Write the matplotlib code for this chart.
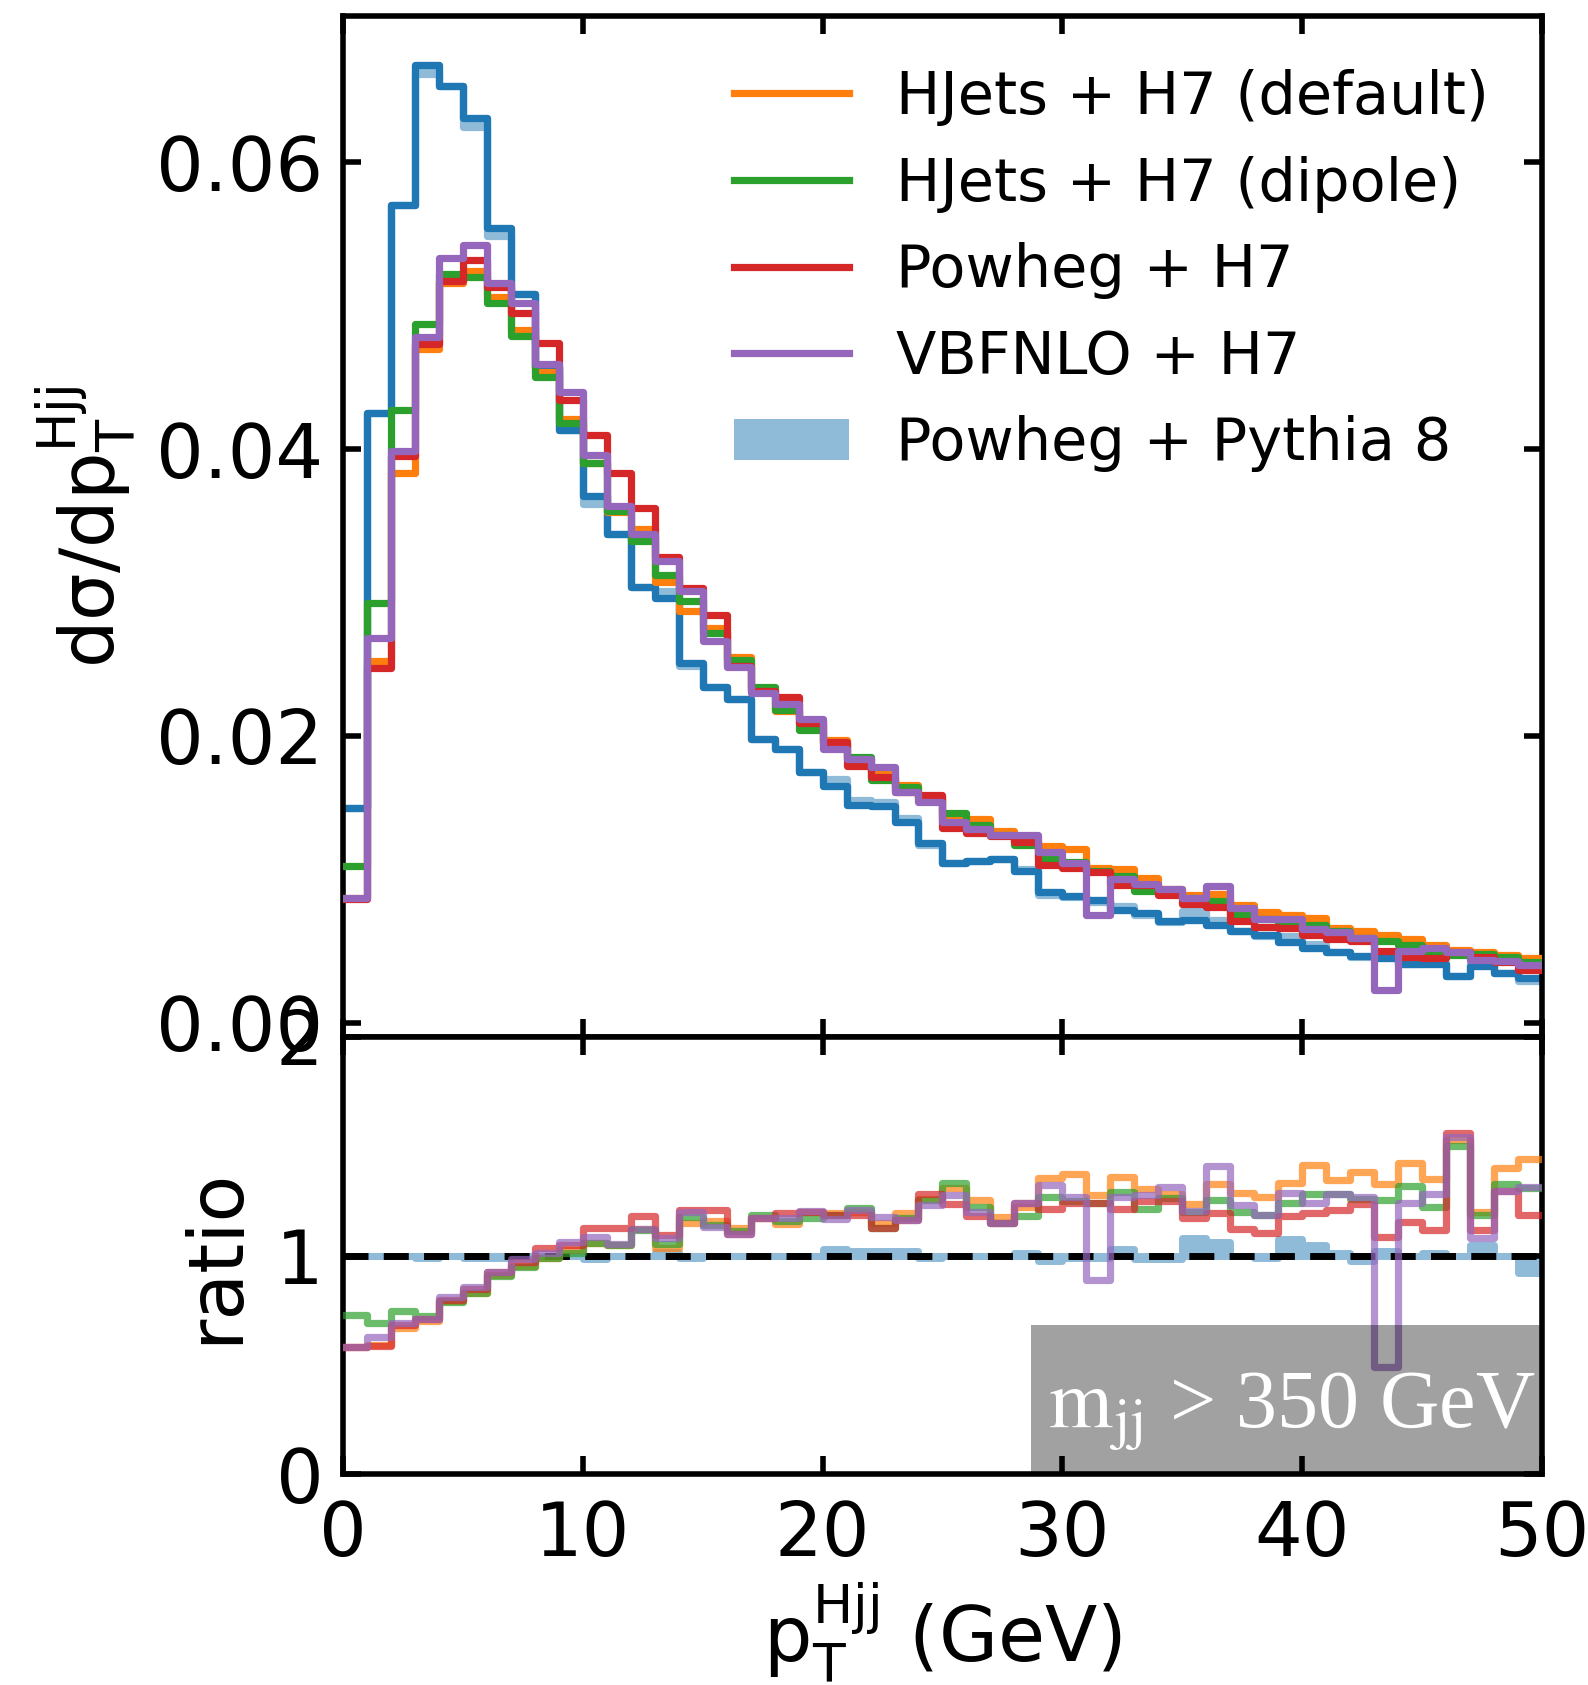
import numpy as np
import matplotlib
matplotlib.use("Agg")
import matplotlib.pyplot as plt
from matplotlib.patches import Patch, Rectangle

plt.rcParams['font.family'] = ['DejaVu Sans']
plt.rcParams['mathtext.default'] = 'regular'

# ---------------- data ----------------
bin_edges = np.arange(0, 51, 1)

# Powheg + Pythia 8 (central, dark blue line)
powheg_py8 = [0.0150, 0.0425, 0.0570, 0.0668, 0.0653, 0.0631, 0.0554, 0.0508, 0.0457, 0.0413,
              0.0367, 0.0341, 0.0304, 0.0296, 0.0251, 0.0234, 0.0226, 0.0198, 0.0191, 0.0175,
              0.0165, 0.0152, 0.0151, 0.0140, 0.0125, 0.0111, 0.0113, 0.0114, 0.0106, 0.0091,
              0.00885, 0.00853, 0.00787, 0.00764, 0.00711, 0.00718, 0.00678, 0.00636, 0.00608, 0.0056,
              0.0052, 0.0049, 0.00467, 0.00451, 0.00411, 0.00411, 0.00328, 0.00393, 0.00346, 0.00312]

# Powheg + Pythia 8 variation, relative to the central value (light blue band)
powheg_py8_var_ratio = [1.0, 1.0, 1.0, 0.99, 1.0, 0.99, 0.99, 1.0, 1.0, 1.0,
                        0.985, 1.0, 1.0, 1.016, 0.99, 1.0, 1.0, 1.0, 1.0, 1.0,
                        1.028, 1.02, 1.02, 1.02, 0.99, 1.0, 1.0, 1.0, 1.01, 0.975,
                        0.99, 0.99, 1.03, 0.985, 0.985, 1.08, 1.06, 1.0, 0.99, 1.075,
                        1.05, 1.01, 0.975, 1.02, 1.0, 1.01, 1.0, 1.05, 1.0, 0.92]

hjets_default = [0.0087, 0.0252, 0.0383, 0.0470, 0.0516, 0.0524, 0.0506, 0.0483, 0.0454, 0.0421,
                 0.0390, 0.0356, 0.0344, 0.0307, 0.0287, 0.0275, 0.0255, 0.0231, 0.0217, 0.0211,
                 0.0197, 0.0184, 0.0175, 0.0166, 0.0157, 0.0143, 0.0142, 0.0134, 0.0128, 0.0123,
                 0.0121, 0.0108, 0.0107, 0.0101, 0.0093, 0.0089, 0.0090, 0.0082, 0.0077, 0.0075,
                 0.0073, 0.0066, 0.0064, 0.0061, 0.0058, 0.0054, 0.0051, 0.0049, 0.0047, 0.0045]

hjets_dipole = [0.0109, 0.0293, 0.0427, 0.0487, 0.0522, 0.0520, 0.0502, 0.0479, 0.0450, 0.0418,
                0.0390, 0.0357, 0.0336, 0.0312, 0.0294, 0.0272, 0.0253, 0.0234, 0.0218, 0.0204,
                0.0195, 0.0185, 0.0169, 0.0164, 0.0157, 0.0146, 0.0138, 0.0131, 0.0124, 0.0115,
                0.0112, 0.0106, 0.0102, 0.0092, 0.0090, 0.0087, 0.0085, 0.0076, 0.0072, 0.0070,
                0.0068, 0.0064, 0.0059, 0.0057, 0.0054, 0.0050, 0.0047, 0.0048, 0.0046, 0.0042]

powheg_h7 = [0.0086, 0.0247, 0.0395, 0.0473, 0.0517, 0.0532, 0.0513, 0.0495, 0.0474, 0.0434,
             0.0410, 0.0383, 0.0359, 0.0325, 0.0303, 0.0284, 0.0249, 0.0231, 0.0227, 0.0209,
             0.0196, 0.0179, 0.0171, 0.0161, 0.0159, 0.0136, 0.0132, 0.0130, 0.0126, 0.0110,
             0.0108, 0.0105, 0.0096, 0.0096, 0.0089, 0.0083, 0.0081, 0.0071, 0.0067, 0.0066,
             0.0061, 0.0058, 0.0057, 0.0050, 0.0046, 0.0045, 0.0049, 0.0046, 0.0042, 0.0037]

vbfnlo_h7 = [0.0087, 0.0268, 0.0399, 0.0478, 0.0533, 0.0542, 0.0516, 0.0502, 0.0459, 0.0440,
             0.0396, 0.0360, 0.0341, 0.0322, 0.0301, 0.0266, 0.0248, 0.0230, 0.0222, 0.0212,
             0.0191, 0.0184, 0.0178, 0.0161, 0.0154, 0.0140, 0.0135, 0.0131, 0.0131, 0.0119,
             0.0111, 0.0075, 0.0100, 0.0097, 0.0093, 0.0087, 0.0095, 0.0080, 0.0072, 0.0072,
             0.0065, 0.0063, 0.0059, 0.0023, 0.0050, 0.0052, 0.0049, 0.0044, 0.0043, 0.0040]

# ratios to Powheg + Pythia 8 (lower panel)
ratio_hjets_default = [0.58, 0.59, 0.667, 0.70, 0.79, 0.83, 0.91, 0.95, 0.99, 1.025,
                       1.055, 1.048, 1.12, 1.035, 1.147, 1.16, 1.125, 1.17, 1.145, 1.20,
                       1.196, 1.20, 1.15, 1.196, 1.26, 1.307, 1.254, 1.178, 1.22, 1.353,
                       1.373, 1.277, 1.358, 1.303, 1.28, 1.236, 1.327, 1.285, 1.266, 1.33,
                       1.414, 1.346, 1.384, 1.327, 1.425, 1.349, 1.53, 1.20, 1.399, 1.441]

ratio_hjets_dipole = [0.728, 0.690, 0.748, 0.725, 0.789, 0.827, 0.906, 0.946, 0.987, 1.01,
                      1.059, 1.05, 1.115, 1.054, 1.175, 1.14, 1.11, 1.185, 1.159, 1.17,
                      1.185, 1.216, 1.124, 1.17, 1.254, 1.330, 1.223, 1.147, 1.181, 1.269,
                      1.25, 1.24, 1.292, 1.211, 1.262, 1.20, 1.254, 1.200, 1.185, 1.242,
                      1.281, 1.28, 1.26, 1.254, 1.318, 1.223, 1.500, 1.185, 1.327, 1.31]

ratio_powheg_h7 = [0.583, 0.585, 0.683, 0.708, 0.796, 0.845, 0.926, 0.972, 1.033, 1.05,
                   1.124, 1.124, 1.183, 1.096, 1.21, 1.21, 1.10, 1.17, 1.193, 1.198,
                   1.185, 1.185, 1.124, 1.163, 1.281, 1.236, 1.181, 1.147, 1.242, 1.211,
                   1.239, 1.24, 1.211, 1.25, 1.25, 1.170, 1.196, 1.120, 1.102, 1.181,
                   1.196, 1.208, 1.236, 1.086, 1.155, 1.117, 1.559, 1.117, 1.293, 1.185]

ratio_vbfnlo_h7 = [0.583, 0.628, 0.693, 0.708, 0.812, 0.857, 0.926, 0.982, 1.010, 1.063,
                   1.083, 1.053, 1.12, 1.08, 1.198, 1.132, 1.10, 1.17, 1.17, 1.205,
                   1.166, 1.207, 1.176, 1.163, 1.231, 1.277, 1.200, 1.147, 1.242, 1.323,
                   1.269, 0.888, 1.269, 1.275, 1.315, 1.205, 1.410, 1.231, 1.185, 1.285,
                   1.242, 1.281, 1.27, 0.491, 1.239, 1.281, 1.541, 1.079, 1.293, 1.315]

series_labels = ["HJets + H7 (default)", "HJets + H7 (dipole)", "Powheg + H7", "VBFNLO + H7"]
band_label = "Powheg + Pythia 8"
xlabel = r"$p_T^{Hjj}$ (GeV)"
ylabel_main = r"$d\sigma/dp_T^{Hjj}$"
ylabel_ratio = "ratio"
cut_text = r"$\mathrm{m_{jj}}$ > 350 GeV"

# ---------------- style ----------------
c_orange, c_green, c_red, c_purple = "#ff7f0e", "#2ca02c", "#d62728", "#9467bd"
c_blue = "#1f77b4"
c_band = "#8fbbd9"
LW = 5.2
FS = 54


def stepy(v):
    v = np.asarray(v, dtype=float)
    return np.append(v, v[-1])


fig = plt.figure(figsize=(15.88, 16.85), dpi=100)
ax = fig.add_axes([0.2160, 0.38457, 0.7550, 0.60593])
axr = fig.add_axes([0.2160, 0.12522, 0.7550, 0.25935], sharex=ax)

# ---- main panel ----
pp8 = np.asarray(powheg_py8)
ax.fill_between(bin_edges, stepy(pp8), stepy(pp8 * np.asarray(powheg_py8_var_ratio)),
                step="post", facecolor=c_band, edgecolor=c_band, linewidth=LW, zorder=1)
ax.step(bin_edges, stepy(pp8), where="post", color=c_blue, lw=LW, zorder=2)

handles = []
for vals, col, lab in zip([hjets_default, hjets_dipole, powheg_h7, vbfnlo_h7],
                          [c_orange, c_green, c_red, c_purple], series_labels):
    ln, = ax.step(bin_edges, stepy(vals), where="post", color=col, lw=LW, label=lab, zorder=3)
    handles.append(ln)
handles.append(Patch(facecolor=c_band, edgecolor="none", label=band_label))

ax.set_xlim(0, 50)
ax.set_ylim(-0.001, 0.0702)
ax.set_yticks([0.0, 0.02, 0.04, 0.06])
ax.set_ylabel(ylabel_main, fontsize=54, labelpad=14)
ax.tick_params(axis="x", labelbottom=False)

leg = ax.legend(handles=handles, loc="upper right", frameon=False, fontsize=42.5,
                handlelength=1.95, handletextpad=0.8, labelspacing=0.5)

# ---- ratio panel ----
ones = np.ones(len(pp8))
axr.fill_between(bin_edges, stepy(ones), stepy(powheg_py8_var_ratio), step="post",
                 facecolor=c_band, edgecolor=c_band, linewidth=5.0, zorder=1)
axr.axhline(1.0, color="black", lw=5.0, dashes=(3.6, 2.2), zorder=2)
for vals, col in zip([ratio_hjets_default, ratio_hjets_dipole, ratio_powheg_h7, ratio_vbfnlo_h7],
                     [c_orange, c_green, c_red, c_purple]):
    axr.step(bin_edges, stepy(vals), where="post", color=col, lw=LW, alpha=0.7, zorder=3)

axr.set_xlim(0, 50)
axr.set_ylim(0, 2)
axr.set_yticks([0, 1, 2])
axr.set_xticks([0, 10, 20, 30, 40, 50])
axr.set_ylabel(ylabel_ratio, fontsize=55, labelpad=16)
axr.set_xlabel(xlabel, fontsize=55, labelpad=6)

axr.add_patch(Rectangle((0.574, 0.0), 0.426, 0.341, transform=axr.transAxes,
                        facecolor="black", alpha=0.37, edgecolor="none", zorder=5,
                        clip_on=False))
axr.text(0.588, 0.108, cut_text, transform=axr.transAxes, color="white", fontsize=59,
         family="Liberation Serif", math_fontfamily="stix", zorder=6, va="baseline")

for a in (ax, axr):
    for s in a.spines.values():
        s.set_linewidth(4.0)
    a.tick_params(direction="in", length=13, width=4, top=True, right=True,
                  labelsize=FS)
    a.tick_params(axis="y", pad=14)
    a.tick_params(axis="x", pad=18)

fig.savefig("out.png", dpi=100)
